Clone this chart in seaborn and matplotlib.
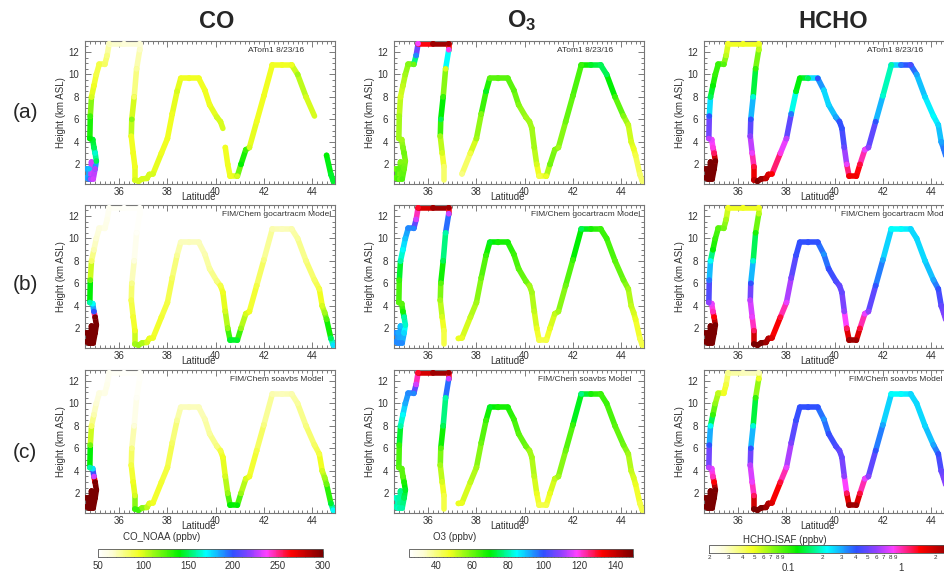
import numpy as np
import pandas as pd
import matplotlib
matplotlib.use("Agg")
import matplotlib.pyplot as plt
import matplotlib.colors as mcolors
from matplotlib.collections import LineCollection
from matplotlib.ticker import MultipleLocator, FixedLocator, LogLocator, FuncFormatter
import seaborn as sns

nan = np.nan

# flight track (ATom1 8/23/16), latitude / altitude waypoints
lat = [34.62, 34.62, 34.75, 34.75, 34.82, 34.85, 34.92, 35.00, 35.05, 35.00, 34.95, 34.90, 34.78,
       34.80, 34.85, 34.95, 35.05, 35.17, 35.40, 35.50, 35.58,
       36.20, 36.85,
       36.85, 36.72, 36.62, 36.52, 36.50, 36.58, 36.65, 36.65,
       36.80, 36.95, 37.15, 37.25, 37.40,
       37.75, 38.00, 38.20, 38.40, 38.55,
       38.90, 39.30,
       39.55, 39.75, 40.05, 40.20, 40.30, 40.40, 40.50, 40.60,
       40.90,
       41.05, 41.25, 41.40, 41.70, 42.00, 42.35,
       42.75, 43.15,
       43.40, 43.75, 44.10, 44.30, 44.42, 44.52, 44.60, 44.78, 44.88]
alt = [0.8, 1.6, 1.6, 0.7, 0.7, 2.2, 0.7, 1.6, 2.3, 3.0, 3.5, 4.2, 4.3,
       6.3, 8.0, 9.0, 10.0, 10.9, 10.9, 11.7, 12.75,
       12.75, 12.75,
       12.2, 10.5, 8.0, 6.0, 4.5, 3.0, 1.8, 0.6,
       0.5, 0.7, 0.75, 1.1, 1.15,
       3.0, 4.3, 6.5, 8.5, 9.65,
       9.65, 9.65,
       8.6, 7.3, 6.2, 5.8, 5.2, 3.5, 2.0, 0.95,
       0.95,
       2.0, 3.3, 3.5, 5.8, 8.1, 10.85,
       10.85, 10.85,
       10.0, 8.0, 6.3, 5.5, 4.0, 3.4, 2.8, 1.1, 0.5]

# CO (ppbv)
co_obs = [185, 185, 180, 190, 225, 230, 230, 225, 150, 165, 150, 145, 140,
          130, 100, 95, 90, 90, 85, 80, 70,
          65, 65,
          68, 75, 85, 115, 95, 95, 95, 100,
          100, 100, 100, 100, 100,
          95, 95, 95, 100, 95,
          95, 95,
          95, 95, 100, 100, nan, 95, 95, 95,
          100,
          140, 130, 100, 95, 95, 95,
          95, 95,
          110, 100, nan, nan, nan, nan, 140, 145, 145]
co_goc = [300, 300, 300, 300, 300, 300, 300, 300, 300, 300, 200, 170, 160,
          120, 85, 72, 66, 62, 60, 58, 55,
          52, 52,
          52, 53, 62, 78, 88, 92, 95, 110,
          112, 108, 100, 96, 95,
          92, 90, 85, 76, 70,
          70, 70,
          72, 75, 80, 90, 95, 100, 112, 145,
          145,
          112, 100, 95, 90, 80, 72,
          70, 72,
          75, 80, 85, 90, 100, 110, 125, 150, 175]
co_soa = [300, 300, 300, 300, 300, 300, 300, 300, 300, 300, 230, 175, 160,
          120, 85, 72, 66, 62, 60, 58, 55,
          52, 52,
          52, 54, 64, 80, 90, 95, 100, 130,
          130, 115, 105, 98, 95,
          92, 90, 85, 76, 70,
          70, 70,
          72, 75, 80, 90, 95, 100, 112, 140,
          140,
          112, 100, 95, 90, 80, 72,
          70, 72,
          75, 80, 85, 90, 100, 110, 120, 145, 170]

# O3 (ppbv)
o3_obs = [62, 60, 62, 64, 60, 58, 63, 60, 58, 60, 58, 55, 55,
          55, 50, 52, 55, 58, 60, 95, 118,
          145, 145,
          120, 50, 65, 75, 55, 50, 42, nan,
          nan, nan, nan, nan, 40,
          45, 55, 58, 72, 62,
          62, 62,
          62, 58, 55, 55, 55, 55, 50, 45,
          48,
          60, 58, 55, 60, 62, 65,
          72, 75,
          75, 65, 58, 52, 50, 48, 45, 42, 42]
o3_goc = [95, 95, 92, 95, 95, 90, 95, 88, 82, 80, 68, 62, 62,
          65, 80, 85, 90, 95, 95, 115, 130,
          145, 145,
          115, 80, 75, 62, 55, 50, 45, nan,
          nan, nan, nan, 48, 48,
          52, 55, 60, 65, 72,
          68, 68,
          65, 62, 60, 55, 55, 52, 48, 45,
          45,
          48, 52, 55, 60, 65, 75,
          68, 65,
          65, 62, 60, 55, 52, 50, 48, 45, 45]
o3_soa = [80, 82, 80, 82, 80, 78, 80, 75, 72, 68, 62, 62, 62,
          65, 80, 85, 92, 95, 95, 115, 130,
          145, 145,
          115, 80, 75, 62, 55, 50, 45, nan,
          nan, nan, nan, 48, 48,
          52, 55, 60, 65, 72,
          68, 68,
          65, 62, 60, 55, 55, 52, 48, 45,
          45,
          48, 52, 55, 60, 65, 78,
          68, 65,
          65, 62, 60, 55, 52, 50, 48, 45, 45]

# HCHO (ppbv)
hcho_obs = [3.0, 3.0, 3.0, 3.0, 3.0, 3.0, 3.0, 3.0, 3.0, 1.2, 0.9, 0.8, 0.7,
            0.4, 0.15, 0.12, 0.1, 0.1, 0.09, 0.06, 0.05,
            0.05, 0.05,
            0.06, 0.1, 0.2, 0.4, 0.6, 0.8, 1.3, 2.0,
            3.0, 2.5, 2.0, 1.8, 1.5,
            0.9, 0.7, 0.35, 0.13, 0.12,
            0.15, 0.4,
            0.25, 0.25, 0.3, 0.4, 0.4, 0.5, 0.8, 1.6,
            1.6,
            1.3, 0.8, 0.6, 0.4, 0.2, 0.18,
            0.35, 0.45,
            0.3, 0.25, 0.22, 0.25, 0.3, 0.35, 0.35, 0.3, 0.3]
hcho_goc = [3.0, 3.0, 3.0, 3.0, 3.0, 3.0, 3.0, 3.0, 3.0, 1.5, 1.0, 0.8, 0.6,
            0.35, 0.22, 0.12, 0.1, 0.09, 0.08, 0.065, 0.05,
            0.05, 0.05,
            0.06, 0.11, 0.2, 0.4, 0.7, 0.8, 1.2, 3.0,
            3.0, 3.0, 2.5, 2.2, 1.8,
            1.3, 0.8, 0.55, 0.42, 0.4,
            0.4, 0.4,
            0.32, 0.4, 0.45, 0.5, 0.5, 0.6, 1.2, 2.5,
            2.5,
            1.3, 0.8, 0.6, 0.4, 0.3, 0.22,
            0.22, 0.25,
            0.25, 0.25, 0.3, 0.4, 0.5, 0.55, 0.6, 0.7, 0.8]
hcho_soa = [3.0, 3.0, 3.0, 3.0, 3.0, 3.0, 3.0, 3.0, 3.0, 1.5, 1.0, 0.8, 0.7,
            0.4, 0.22, 0.1, 0.07, 0.06, 0.05, 0.045, 0.035,
            0.03, 0.03,
            0.05, 0.1, 0.2, 0.4, 0.7, 0.8, 1.2, 3.0,
            3.0, 3.0, 2.5, 2.2, 1.8,
            1.3, 0.8, 0.55, 0.42, 0.4,
            0.4, 0.4,
            0.32, 0.4, 0.45, 0.5, 0.5, 0.6, 1.2, 2.5,
            2.5,
            1.3, 0.8, 0.6, 0.4, 0.3, 0.22,
            0.22, 0.25,
            0.25, 0.25, 0.3, 0.4, 0.5, 0.55, 0.6, 0.7, 0.8]

col_titles = ["CO", r"$\mathbf{O_3}$", "HCHO"]
row_tags = ["(a)", "(b)", "(c)"]
row_notes = ["ATom1 8/23/16", "FIM/Chem gocartracm Model", "FIM/Chem soavbs Model"]
cb_labels = ["CO_NOAA (ppbv)", "O3 (ppbv)", "HCHO-ISAF (ppbv)"]
panel_vals = [[co_obs, o3_obs, hcho_obs],
              [co_goc, o3_goc, hcho_goc],
              [co_soa, o3_soa, hcho_soa]]

sns.set_style("ticks")
plt.rcParams['font.family'] = ['Liberation Sans', 'DejaVu Sans']
plt.rcParams['mathtext.fontset'] = 'custom'
plt.rcParams['mathtext.rm'] = 'Liberation Sans'
plt.rcParams['mathtext.bf'] = 'Liberation Sans:bold'

cmap = mcolors.LinearSegmentedColormap.from_list("atom", [
    (0.0, "#ffffff"), (0.06, "#fdfdd8"), (0.18, "#f2ff22"), (0.36, "#00f000"),
    (0.48, "#00ffff"), (0.6, "#3050ff"), (0.68, "#9040ff"), (0.75, "#ff40ff"),
    (0.86, "#ff0000"), (1.0, "#7a0000")])
norms = [mcolors.Normalize(50, 300), mcolors.Normalize(25, 150), mcolors.LogNorm(0.02, 3.0)]

W, H = 944, 573
fig = plt.figure(figsize=(W / 100, H / 100), dpi=100)


def px_axes(x0, y0, w, h):
    return fig.add_axes([x0 / W, 1 - (y0 + h) / H, w / W, h / H])


def draw_track(ax, vals, norm):
    v = np.array(vals, dtype=float)
    x = np.array(lat)
    y = np.array(alt)
    u = np.array([float(norm(a)) if not np.isnan(a) else nan for a in v])
    segs, cols = [], []
    for i in range(len(x) - 1):
        if np.isnan(v[i]):
            continue
        ui = u[i] if np.isnan(v[i + 1]) else 0.5 * (u[i] + u[i + 1])
        segs.append([(x[i], y[i]), (x[i + 1], y[i + 1])])
        cols.append(cmap(np.clip(ui, 0, 1)))
    ax.add_collection(LineCollection(segs, colors=cols, linewidths=4.0,
                                     capstyle='round', zorder=2))
    df = pd.DataFrame({"lat": x, "alt": y, "val": v}).dropna()
    sns.scatterplot(data=df, x="lat", y="alt", hue="val", palette=cmap,
                    hue_norm=norm, s=16, linewidth=0, legend=False, ax=ax, zorder=3)


col_left = [85, 394, 704]
row_top = [41, 205, 370]
for r in range(3):
    for c in range(3):
        ax = px_axes(col_left[c], row_top[r], 250, 143)
        draw_track(ax, panel_vals[r][c], norms[c])
        ax.set_xlim(34.58, 44.95)
        ax.set_ylim(0.25, 12.98)
        ax.xaxis.set_major_locator(MultipleLocator(2))
        ax.xaxis.set_minor_locator(MultipleLocator(0.2))
        ax.yaxis.set_major_locator(MultipleLocator(2))
        ax.yaxis.set_minor_locator(MultipleLocator(0.5))
        ax.tick_params(which='both', direction='in', top=True, right=True,
                       color='#666666', labelcolor='#333333', labelsize=7, width=0.6)
        ax.tick_params(which='major', length=4)
        ax.tick_params(axis='x', which='major', pad=2.5)
        ax.tick_params(axis='y', which='major', pad=4)
        ax.tick_params(which='minor', length=2)
        for sp in ax.spines.values():
            sp.set_color('#777777')
            sp.set_linewidth(0.8)
        ax.set_xlabel("Latitude", fontsize=7, color='#333333')
        ax.xaxis.set_label_coords(0.455, -0.056)
        ax.set_ylabel("Height (km ASL)", fontsize=7, color='#333333', labelpad=2)
        ax.text(0.765, 0.937, row_notes[r], transform=ax.transAxes, ha='center',
                va='center', fontsize=6, color='#333333')

# column titles and row tags
for x0, t in zip([217, 522, 833], col_titles):
    fig.text(x0 / W, 1 - 21 / H, t, ha='center', va='center', fontsize=17, fontweight='bold')
for y0, t in zip([113, 285, 452], row_tags):
    fig.text(25 / W, 1 - y0 / H, t, ha='center', va='center', fontsize=15)

# colorbars
cb_box = [(98, 549, 225), (409, 549, 224), (709, 545, 246)]
cb_lab = [(123, 537), (433, 537), (743, 540)]
for c in range(3):
    x0, y0, w = cb_box[c]
    cax = px_axes(x0, y0, w, 8)
    sm = plt.cm.ScalarMappable(norm=norms[c], cmap=cmap)
    cb = fig.colorbar(sm, cax=cax, orientation='horizontal')
    cb.outline.set_linewidth(0.6)
    cb.outline.set_edgecolor('#555555')
    if c == 0:
        cb.locator = FixedLocator([50, 100, 150, 200, 250, 300])
        cb.minorlocator = MultipleLocator(10)
    elif c == 1:
        cb.locator = FixedLocator([40, 60, 80, 100, 120, 140])
        cb.minorlocator = MultipleLocator(2)
    else:
        cb.locator = FixedLocator([0.1, 1.0])
        cb.minorlocator = LogLocator(base=10, subs=range(2, 10))
        cb.formatter = FuncFormatter(lambda v, p: "0.1" if v < 0.5 else "1")
        cb.minorformatter = FuncFormatter(
            lambda v, p: f"{int(round(v / 10 ** np.floor(np.log10(v))))}")
    cax.tick_params(which='both', direction='in', bottom=True, top=False,
                    color='#444444', labelcolor='#333333', width=0.5)
    cax.tick_params(which='major', length=4, labelsize=7, pad=3)
    cax.tick_params(which='minor', length=2)
    if c == 2:
        cax.tick_params(which='major', labelsize=7, pad=7)
        cax.tick_params(which='minor', labelsize=4.5, pad=1.5)
    fig.text(cb_lab[c][0] / W, 1 - cb_lab[c][1] / H, cb_labels[c], ha='left',
             va='center', fontsize=7, color='#333333')

fig.savefig("out.png", dpi=100)
